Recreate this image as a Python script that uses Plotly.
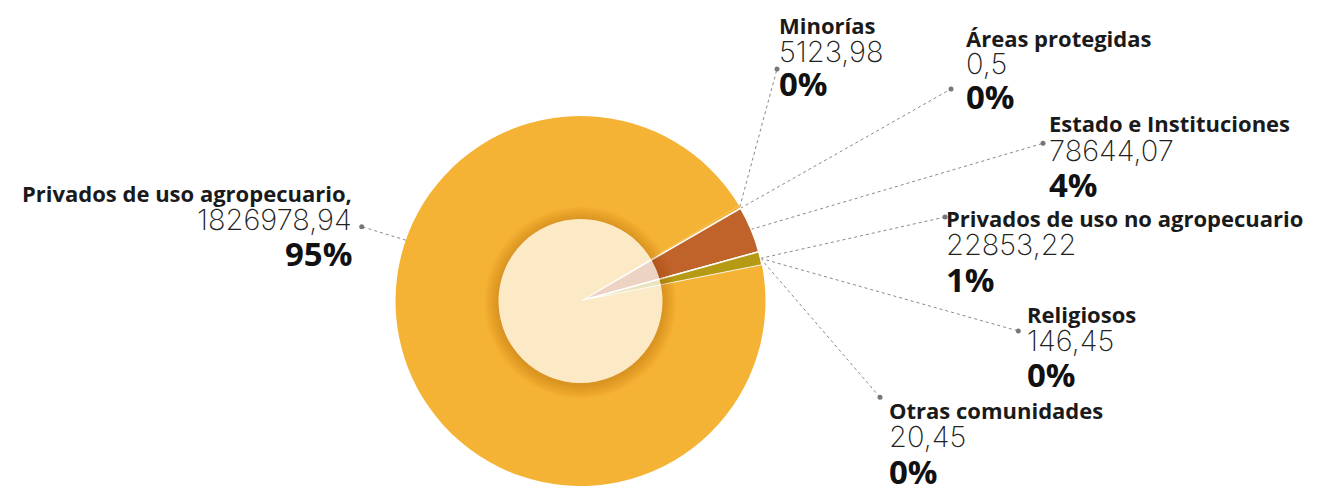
import math
import plotly.graph_objects as go

# ---------------- data ----------------
labels = ["Minorías", "Áreas protegidas", "Estado e Instituciones", "Privados de uso no agropecuario",
          "Religiosos", "Otras comunidades", "Privados de uso agropecuario,"]
values = [5123.98, 0.5, 78644.07, 22853.22, 146.45, 20.45, 1826978.94]
value_text = ["5123,98", "0,5", "78644,07", "22853,22", "146,45", "20,45", "1826978,94"]
pct_text = ["0%", "0%", "4%", "1%", "0%", "0%", "95%"]
colors = ["#F5B335", "#E9A23A", "#BF632A", "#B79A14", "#D9B24A", "#E8C070", "#F5B335"]

# ---------------- layout constants ----------------
W, H = 1319, 486
CX, CY, R = 580.5, 301.0, 185.0
INNER_R = 82.0
ROTATION = 58.95

# label block positions (x, cap-centre y of name / value / percentage, anchor)
label_x = [778, 965, 1048, 945, 1026, 888, 353]
name_y = [25.3, 37.5, 122.5, 218, 313.5, 410, 192.5]
val_y = [51.2, 63.5, 150.5, 244, 340, 436, 219.5]
pct_y = [84.8, 97.5, 185.3, 280, 375, 472, 254]
xanchor = ["left"] * 6 + ["right"]
dot_xy = [(777, 69), (951, 89), (1043, 143.3), (945, 217), (1018.3, 331), (880, 397.3), (361.7, 226.7)]

# angle of each slice middle (degrees clockwise from 12 o'clock) computed from the data
total = sum(values)
mids, cur = [], ROTATION
for v in values:
    span = 360.0 * v / total
    mids.append(cur + span / 2)
    cur += span
# Religiosos and Otras leaders converge with the "no agropecuario" one; agro leader goes to upper left
anchor_angles = [mids[0], mids[1], mids[2], mids[3], mids[3], mids[3], 289.2]


def edge_point(a_deg):
    a = math.radians(a_deg)
    return CX + R * math.sin(a), CY - R * math.cos(a)


fig = go.Figure()

# leader lines + dots (pixel-space cartesian axes)
lx, ly = [], []
for i in range(len(labels)):
    ex, ey = edge_point(anchor_angles[i])
    lx += [ex, dot_xy[i][0], None]
    ly += [ey, dot_xy[i][1], None]
fig.add_trace(go.Scatter(x=lx, y=ly, mode="lines", line=dict(color="#8a8a8a", width=1, dash="dot"),
                         hoverinfo="skip", showlegend=False))
fig.add_trace(go.Scatter(x=[d[0] for d in dot_xy], y=[d[1] for d in dot_xy], mode="markers",
                         marker=dict(color="#777777", size=5), hoverinfo="skip", showlegend=False))

fig.add_trace(go.Pie(
    labels=labels, values=values, sort=False, direction="clockwise", rotation=ROTATION,
    marker=dict(colors=colors, line=dict(color="white", width=[0, 0, 1.5, 1.5, 0, 0, 0])),
    textinfo="none", hoverinfo="label+value+percent", showlegend=False,
    domain=dict(x=[(CX - R) / W, (CX + R) / W], y=[(H - CY - R) / H, (H - CY + R) / H]),
))

# inner circle shadow (soft rings) + translucent white disc
shapes = []
n_rings = 14
for k in range(n_rings):
    r_out = INNER_R + 1 + k
    pts_out = [(CX + r_out * math.cos(t * math.pi / 60), CY + 1.5 + r_out * math.sin(t * math.pi / 60)) for t in range(120)]
    pts_in = [(CX + INNER_R * math.cos(-t * math.pi / 60), CY + INNER_R * math.sin(-t * math.pi / 60)) for t in range(120)]
    path = "M " + " L ".join(f"{x:.2f},{y:.2f}" for x, y in pts_out) + " Z M " + \
           " L ".join(f"{x:.2f},{y:.2f}" for x, y in pts_in) + " Z"
    shapes.append(dict(type="path", xref="x", yref="y", path=path, line=dict(width=0),
                       fillcolor="rgba(150,85,0,0.022)", layer="above"))
shapes.append(dict(type="circle", xref="x", yref="y", x0=CX - INNER_R, x1=CX + INNER_R,
                   y0=CY - INNER_R, y1=CY + INNER_R, line=dict(width=0),
                   fillcolor="rgba(255,255,255,0.72)", layer="above"))

annotations = []
for i in range(len(labels)):
    common = dict(xref="x", yref="y", x=label_x[i], xanchor=xanchor[i], yanchor="middle",
                  showarrow=False, borderpad=0, align=xanchor[i])
    annotations.append(dict(y=name_y[i], text=labels[i], height=28, valign="middle",
                            font=dict(family="Open Sans", size=22, weight=700, color="#1a1a1a"), **common))
    annotations.append(dict(y=val_y[i] + 3.05, text=value_text[i], height=29, valign="bottom",
                            font=dict(family="Inter", size=29, weight=200, color="#222222"), **common))
    annotations.append(dict(y=pct_y[i] - 1.0, text=pct_text[i], height=27, valign="middle",
                            font=dict(family="Open Sans", size=33, weight=700, color="#111111"), **common))

fig.update_layout(
    width=W, height=H, margin=dict(l=0, r=0, t=0, b=0, pad=0),
    paper_bgcolor="white", plot_bgcolor="rgba(0,0,0,0)",
    xaxis=dict(range=[0, W], visible=False, fixedrange=True),
    yaxis=dict(range=[H, 0], visible=False, fixedrange=True),
    shapes=shapes, annotations=annotations, showlegend=False,
)
fig.write_html("out.html")
